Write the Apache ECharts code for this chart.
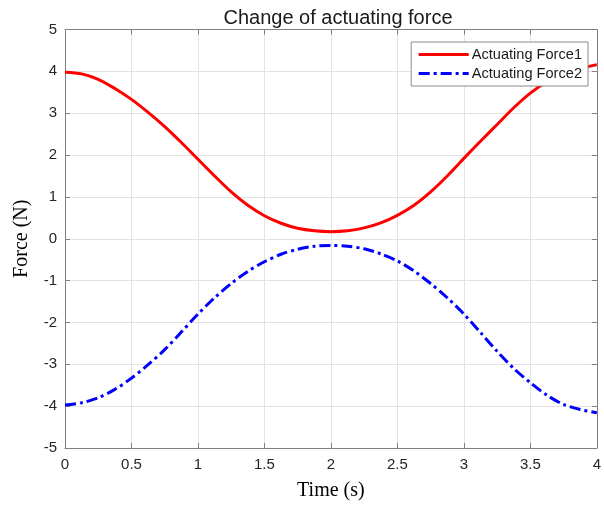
<!DOCTYPE html>
<html>
<head>
<meta charset="utf-8">
<script src="https://cdn.jsdelivr.net/npm/echarts@6/dist/echarts.min.js"></script>
<style>html,body{margin:0;padding:0;background:#fff}#c{width:604px;height:506px}</style>
</head>
<body>
<div id="c"></div>
<script>
var times = [0, 0.125, 0.25, 0.375, 0.5, 0.625, 0.75, 0.875, 1.0, 1.125, 1.25, 1.375, 1.5, 1.625, 1.75, 1.875,
             2.0, 2.125, 2.25, 2.375, 2.5, 2.625, 2.75, 2.875, 3.0, 3.125, 3.25, 3.375, 3.5, 3.625, 3.75, 3.875, 4.0];
var force1 = [3.98, 3.94, 3.81, 3.59, 3.33, 3.02, 2.68, 2.30, 1.90, 1.50, 1.12, 0.80, 0.55, 0.37, 0.25, 0.19,
              0.17, 0.19, 0.26, 0.38, 0.56, 0.80, 1.12, 1.50, 1.92, 2.33, 2.73, 3.13, 3.48, 3.75, 3.94, 4.07, 4.16];
var force2 = [-3.97, -3.92, -3.80, -3.60, -3.33, -3.01, -2.65, -2.23, -1.80, -1.41, -1.07, -0.78, -0.55, -0.37, -0.25, -0.18,
              -0.16, -0.18, -0.24, -0.36, -0.53, -0.77, -1.07, -1.41, -1.80, -2.24, -2.69, -3.10, -3.44, -3.74, -3.96, -4.08, -4.16];
var seriesNames = ['Actuating Force1', 'Actuating Force2'];
var titleText = 'Change of actuating force';
var xName = 'Time (s)';
var yName = 'Force (N)';

function pairs(xs, ys) { return xs.map(function (x, i) { return [x, ys[i]]; }); }

var axisCol = '#808080';
var chart = echarts.init(document.getElementById('c'), null, {renderer: 'canvas'});
var gridPos = {left: 65, right: 3, top: 29.5, bottom: 56};
function baseX(show, pos) {
  return {
    type: 'value', min: 0, max: 4, interval: 0.5, position: pos,
    axisLine: {show: true, onZero: false, lineStyle: {color: axisCol, width: 1}},
    axisTick: {show: true, inside: true, length: 5, lineStyle: {color: axisCol}},
    axisLabel: {show: show, color: '#262626', fontSize: 15, fontFamily: 'Liberation Sans, Arial', margin: 9},
    splitLine: {show: show, lineStyle: {color: '#e3e3e3', width: 1}}
  };
}
function baseY(show, pos) {
  return {
    type: 'value', min: -5, max: 5, interval: 1, position: pos,
    axisLine: {show: true, onZero: false, lineStyle: {color: axisCol, width: 1}},
    axisTick: {show: true, inside: true, length: 5, lineStyle: {color: axisCol}},
    axisLabel: {show: show, color: '#262626', fontSize: 15, fontFamily: 'Liberation Sans, Arial', margin: 8},
    splitLine: {show: show, lineStyle: {color: '#e3e3e3', width: 1}}
  };
}
var xa = baseX(true, 'bottom');
xa.name = xName; xa.nameLocation = 'middle'; xa.nameGap = 33;
xa.nameTextStyle = {fontFamily: 'Liberation Serif, Times New Roman', fontSize: 20, color: '#000'};
var ya = baseY(true, 'left');
ya.name = yName; ya.nameLocation = 'middle'; ya.nameGap = 33;
ya.nameTextStyle = {fontFamily: 'Liberation Serif, Times New Roman', fontSize: 20, color: '#000'};

chart.setOption({
  animation: false,
  backgroundColor: '#fff',
  title: {
    text: titleText, left: 333, top: 3, textAlign: 'center',
    textStyle: {fontFamily: 'Liberation Sans, Arial', fontSize: 20, fontWeight: 'normal', color: '#1a1a1a'}
  },
  legend: {
    data: seriesNames, orient: 'vertical', right: 16, top: 42,
    backgroundColor: '#fff', borderColor: '#8a8a8a', borderWidth: 1,
    padding: [5, 6, 5, 6], itemGap: 4, itemWidth: 50, itemHeight: 14,
    itemStyle: {opacity: 0, borderWidth: 0},
    lineStyle: {width: 3},
    textStyle: {fontFamily: 'Liberation Sans, Arial', fontSize: 14.6, color: '#1a1a1a', padding: [0, 0, 0, -2]}
  },
  grid: gridPos,
  xAxis: [xa, baseX(false, 'top')],
  yAxis: [ya, baseY(false, 'right')],
  series: [
    {name: seriesNames[0], type: 'line', data: pairs(times, force1), smooth: 0.3, showSymbol: false, symbol: 'none',
     lineStyle: {color: '#ff0000', width: 3}, itemStyle: {color: '#ff0000'}, z: 3},
    {name: seriesNames[1], type: 'line', data: pairs(times, force2), smooth: 0.3, showSymbol: false, symbol: 'none',
     lineStyle: {color: '#0000ff', width: 3, type: [11, 4, 3, 4]}, itemStyle: {color: '#0000ff'}, z: 3}
  ]
});
</script>
</body>
</html>
